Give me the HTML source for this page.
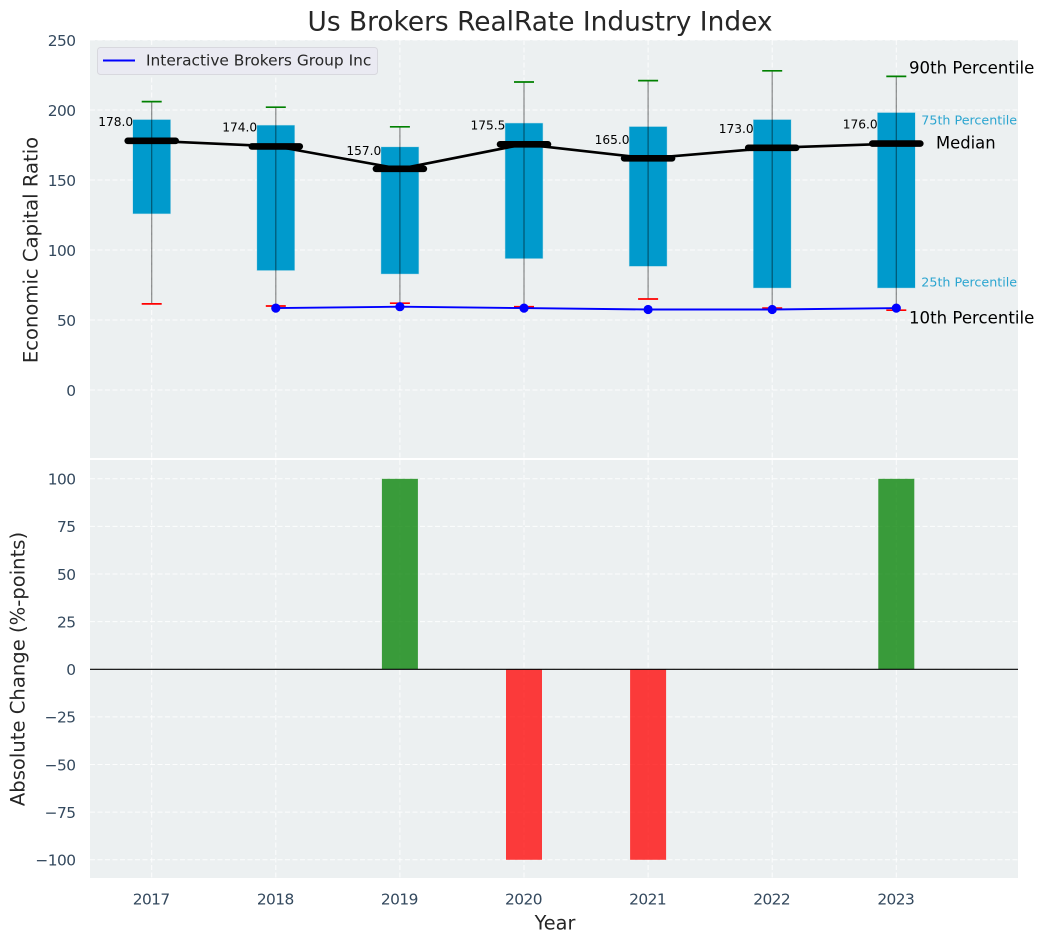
<!DOCTYPE html>
<html lang="en">
<head>
<meta charset="utf-8">
<title>Us Brokers RealRate Industry Index</title>
<style>
html,body{margin:0;padding:0;background:#fff;}
svg{display:block;font-family:"DejaVu Sans","Liberation Sans",sans-serif;}
</style>
</head>
<body>
<svg id="chart" width="1044" height="942" viewBox="0 0 1044 942" xmlns="http://www.w3.org/2000/svg">
  <text x="540" y="22" font-size="26.4" fill="#262626" text-anchor="middle" dominant-baseline="central">Us Brokers RealRate Industry Index</text>
  <text x="31" y="250" font-size="19.6" fill="#262626" text-anchor="middle" dominant-baseline="central" transform="rotate(-90 31 250)">Economic Capital Ratio</text>
  <text x="18" y="669" font-size="19.6" fill="#262626" text-anchor="middle" dominant-baseline="central" transform="rotate(-90 18 669)">Absolute Change (%-points)</text>
  <text x="555" y="923" font-size="19.3" fill="#262626" text-anchor="middle" dominant-baseline="central">Year</text>
  <g id="layer"></g>
</svg>
<script>
const years = [2017, 2018, 2019, 2020, 2021, 2022, 2023];
const p90 = [206, 202, 188, 220, 221, 228, 224];
const p75 = [193, 189, 173.5, 190.5, 188, 193, 198];
const median = [178, 174, 158, 175.5, 165.5, 173, 176];
const medianLabels = [178.0, 174.0, 157.0, 175.5, 165.0, 173.0, 176.0];
const p25 = [126, 85.5, 83, 94, 88.5, 73, 73];
const p10 = [61.5, 60, 62, 59.5, 65, 58.5, 57];
const companyYears = [2018, 2019, 2020, 2021, 2022, 2023];
const companyValues = [58.5, 59.5, 58.5, 57.5, 57.5, 58.5];
const changes = [0, 0, 100, -100, -100, 0, 100];
const topTicks = [0, 50, 100, 150, 200, 250];
const bottomTicks = [-100, -75, -50, -25, 0, 25, 50, 75, 100];

const NS = 'http://www.w3.org/2000/svg';
const layer = document.getElementById('layer');
const xS = v => 151.7 + (v - 2017) * 124.1;
const yTop = v => 390 - v * 1.4;
const yBot = v => 669.3 - v * 1.905;
const L = 90, R = 1018, T1 = 40, B1 = 458, T2 = 460, B2 = 878;

function make(tag, attrs, text) {
  const el = document.createElementNS(NS, tag);
  for (const k in attrs) el.setAttribute(k, attrs[k]);
  if (text !== undefined) el.textContent = text;
  layer.appendChild(el);
  return el;
}
const gridStyle = {stroke: '#ffffff', 'stroke-width': 1, 'stroke-dasharray': '5 2.5', 'stroke-opacity': 0.85};
const tickFont = {'font-size': 15.4, 'letter-spacing': '-0.55', fill: '#34495e', 'dominant-baseline': 'central'};

let el;
el = make('rect', {x: L, y: T1, width: R - L, height: B1 - T1, fill: '#ecf0f1'});


el = make('rect', {x: L, y: T2, width: R - L, height: B2 - T2, fill: '#ecf0f1'});



topTicks.forEach(t => {
  const y = yTop(t);
  const g = make('line', {x1: L, x2: R, y1: y, y2: y, ...gridStyle});
  
  
  const lbl = make('text', {x: 75.5, y: y + 0.8, 'text-anchor': 'end', ...tickFont}, String(t));
  
  
});
bottomTicks.forEach(t => {
  const y = yBot(t);
  const g = make('line', {x1: L, x2: R, y1: y, y2: y, ...gridStyle});
  
  
  const lbl = make('text', {x: 75.5, y: y + 0.8, 'text-anchor': 'end', ...tickFont}, t < 0 ? '\u2212' + Math.abs(t) : String(t));
  
  
});
years.forEach(yr => {
  const x = xS(yr);
  const g1 = make('line', {x1: x, x2: x, y1: T1, y2: B1, ...gridStyle});
  
  
  const g2 = make('line', {x1: x, x2: x, y1: T2, y2: B2, ...gridStyle});
  
  
  const lbl = make('text', {x: x - 0.5, y: 899.5, 'text-anchor': 'middle', ...tickFont}, String(yr));
  
  
});

// Percentile boxes
years.forEach((yr, i) => {
  const x = xS(yr);
  const box = make('rect', {x: x - 18.7, y: yTop(p75[i]), width: 37.4, height: yTop(p25[i]) - yTop(p75[i]), fill: '#009acc', stroke: '#009acc', 'stroke-opacity': 0.25, 'stroke-width': 1});
  
  
});
// Whiskers
years.forEach((yr, i) => {
  const x = xS(yr);
  const w = make('line', {x1: x, x2: x, y1: yTop(p90[i]), y2: yTop(p10[i]), stroke: '#000000', 'stroke-opacity': 0.45, 'stroke-width': 1.2});
  
  
  const hi = make('line', {x1: x - 10, x2: x + 10, y1: yTop(p90[i]), y2: yTop(p90[i]), stroke: '#008000', 'stroke-width': 1.7});
  
  
  const lo = make('line', {x1: x - 10, x2: x + 10, y1: yTop(p10[i]), y2: yTop(p10[i]), stroke: '#ff0000', 'stroke-width': 1.7});
  
  
});
// Median trend + bars
const medLine = make('polyline', {points: years.map((yr, i) => xS(yr) + ',' + yTop(median[i])).join(' '), fill: 'none', stroke: '#000000', 'stroke-width': 2.6, 'stroke-linejoin': 'round'});


years.forEach((yr, i) => {
  const x = xS(yr), y = yTop(median[i]);
  const m = make('line', {x1: x - 24, x2: x + 24, y1: y, y2: y, stroke: '#000000', 'stroke-width': 6.6, 'stroke-linecap': 'round'});
  
  
  const t = make('text', {x: x - 18.6, y: yTop(medianLabels[i]) - 19, 'font-size': 12.2, fill: '#000000', 'text-anchor': 'end', 'dominant-baseline': 'central'}, medianLabels[i].toFixed(1));
  
  
});
// Company series
const compLine = make('polyline', {points: companyYears.map((yr, i) => xS(yr) + ',' + yTop(companyValues[i])).join(' '), fill: 'none', stroke: '#0000ff', 'stroke-width': 1.9});


companyYears.forEach((yr, i) => {
  const c = make('circle', {cx: xS(yr), cy: yTop(companyValues[i]), r: 4.6, fill: '#0000ff'});
  
  
});
// Annotations anchored to last year's values
const last = years.length - 1;
const lastX = xS(years[last]);
let a;
a = make('text', {x: lastX + 12.7, y: yTop(p90[last]) - 8.5, 'font-size': 16.6, fill: '#000000', 'dominant-baseline': 'central'}, '90th Percentile');


a = make('text', {x: lastX + 25, y: yTop(p75[last]) + 7.2, 'font-size': 12.7, fill: '#2ba5d0', 'dominant-baseline': 'central'}, '75th Percentile');


a = make('text', {x: lastX + 39.7, y: yTop(median[last]) - 0.5, 'font-size': 16.4, fill: '#000000', 'dominant-baseline': 'central'}, 'Median');


a = make('text', {x: lastX + 25, y: yTop(p25[last]) - 5.8, 'font-size': 12.7, fill: '#2ba5d0', 'dominant-baseline': 'central'}, '25th Percentile');


a = make('text', {x: lastX + 12.7, y: yTop(p10[last]) + 8, 'font-size': 16.6, fill: '#000000', 'dominant-baseline': 'central'}, '10th Percentile');



// Change bars
years.forEach((yr, i) => {
  const v = changes[i];
  const y0 = yBot(0), y1 = yBot(v);
  const b = make('rect', {x: xS(yr) - 18, y: Math.min(y0, y1), width: 36, height: Math.abs(y1 - y0), fill: v >= 0 ? '#008000' : '#ff0000', 'fill-opacity': 0.76});
  
  
});
const zero = make('line', {x1: L, x2: R, y1: yBot(0), y2: yBot(0), stroke: '#000000', 'stroke-width': 1.2});



// Legend
const lb = make('rect', {x: 97.5, y: 47.5, width: 280, height: 27, rx: 3, fill: '#eaeaf2', stroke: '#d8d8de', 'stroke-width': 1});


const ls = make('line', {x1: 103, x2: 135, y1: 60.5, y2: 60.5, stroke: '#0000ff', 'stroke-width': 1.9});


const lt = make('text', {x: 146, y: 60.5, 'font-size': 15.4, fill: '#262626', 'dominant-baseline': 'central'}, 'Interactive Brokers Group Inc');


</script>
</body>
</html>
